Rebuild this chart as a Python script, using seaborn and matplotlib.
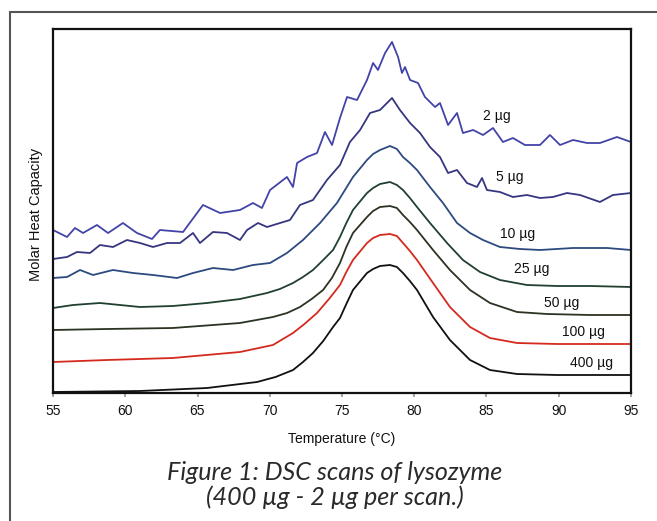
import matplotlib
matplotlib.use("Agg")
import matplotlib.pyplot as plt
from matplotlib.lines import Line2D
import seaborn as sns
import pandas as pd

# ---- data (temperature in °C, heat capacity in arbitrary units) ----
t_2 = [55.0, 55.97, 56.52, 57.08, 58.04, 58.81, 59.84, 60.81, 61.85, 62.40, 64.0, 65.38, 66.56,
       67.94, 68.84, 69.46, 70.02, 71.19, 71.61, 71.89, 72.58, 73.27, 73.82, 74.31, 74.86, 75.35,
       76.04, 76.73, 77.15, 77.49, 77.98, 78.46, 78.88, 79.15, 79.36, 79.71, 80.26, 80.74, 81.44,
       81.78, 82.34, 82.96, 83.37, 84.07, 84.76, 85.45, 86.14, 86.83, 87.66, 88.70, 89.39, 90.09,
       90.99, 91.96, 92.85, 94.03, 95.0]
cp_2 = [163, 156, 165, 160, 168, 160, 170, 160, 154, 163, 161, 188, 180,
        183, 190, 185, 203, 216, 206, 230, 236, 240, 261, 248, 275, 296,
        293, 313, 330, 323, 340, 351, 336, 320, 326, 313, 310, 296, 286,
        290, 268, 280, 260, 263, 258, 265, 251, 255, 248, 248, 258, 248,
        253, 250, 250, 256, 251]

t_5 = [55.0, 55.97, 56.66, 57.56, 58.25, 59.15, 60.12, 61.02, 61.92, 62.89, 63.79, 64.69, 65.17,
       66.07, 67.04, 67.94, 68.43, 69.19, 69.81, 70.71, 71.40, 72.09, 72.99, 73.96, 74.86, 75.55,
       76.25, 76.94, 77.63, 78.46, 79.01, 79.71, 80.40, 81.09, 81.78, 82.34, 82.96, 83.65, 84.34,
       84.69, 85.03, 85.93, 86.83, 87.80, 88.70, 89.60, 90.57, 91.47, 92.85, 93.75, 95.0]
cp_5 = [134, 136, 141, 140, 148, 146, 153, 150, 146, 150, 150, 160, 150,
        161, 160, 153, 163, 170, 166, 170, 173, 188, 193, 213, 228, 251,
        263, 280, 283, 295, 283, 270, 260, 246, 236, 220, 223, 210, 206,
        215, 203, 201, 196, 198, 195, 196, 200, 198, 191, 198, 200]

t_10 = [55.0, 55.97, 56.87, 57.77, 59.15, 60.54, 61.92, 63.58, 64.69, 66.07, 67.46, 68.84, 70.02,
        71.19, 72.30, 73.48, 74.65, 75.76, 76.73, 77.15, 77.63, 78.32, 78.8, 79.22, 79.7, 80.19,
        81.09, 81.99, 82.96, 83.86, 84.76, 85.93, 87.32, 88.70, 90.99, 93.34, 95.0]
cp_10 = [115, 116, 123, 118, 123, 120, 118, 115, 120, 125, 123, 128, 130,
         140, 153, 170, 190, 216, 233, 239, 243, 247, 244, 236, 230, 223,
         206, 190, 170, 160, 153, 146, 144, 143, 145, 145, 143]

t_25 = [55.0, 56.38, 58.25, 61.02, 63.30, 65.66, 67.94, 69.81, 70.7, 71.61, 72.3, 72.99, 73.7,
        74.38, 74.86, 75.3, 75.76, 76.73, 77.15, 77.63, 78.32, 78.8, 79.22, 79.7, 80.19, 81.09,
        82.27, 83.37, 84.55, 85.93, 87.80, 89.88, 92.16, 95.0]
cp_25 = [85, 88, 90, 86, 87, 90, 94, 100, 104, 110, 116, 123, 133,
         143, 156, 170, 183, 200, 205, 209, 211, 208, 203, 195, 186, 170,
         150, 133, 121, 113, 108, 107, 107, 106]

t_50 = [55.0, 58.74, 63.30, 67.94, 70.22, 71.2, 72.09, 72.9, 73.69, 74.3, 74.86, 75.3, 75.76,
        76.73, 77.15, 77.63, 78.32, 78.8, 79.22, 79.7, 80.19, 81.30, 82.47, 83.86, 85.24, 87.11,
        89.19, 92.16, 95.0]
cp_50 = [63, 64, 65, 70, 76, 80, 86, 94, 103, 115, 130, 146, 160,
         176, 182, 186, 187, 185, 178, 171, 163, 143, 123, 103, 90, 81,
         79, 78, 78]

t_100 = [55.0, 58.74, 63.30, 67.94, 70.22, 71.61, 72.4, 73.27, 74.1, 74.86, 75.3, 75.76, 76.73,
         77.15, 77.63, 78.32, 78.8, 79.22, 79.7, 80.19, 81.30, 82.47, 83.86, 85.24, 87.11, 89.88, 95.0]
cp_100 = [31, 33, 35, 41, 48, 60, 69, 80, 94, 108, 121, 133, 150,
          155, 158, 159, 157, 150, 142, 133, 110, 86, 66, 55, 50, 49, 49]

t_400 = [55.0, 61.02, 65.66, 69.12, 70.4, 71.61, 72.3, 72.99, 73.7, 74.38, 74.86, 75.3, 75.76,
         76.73, 77.15, 77.63, 78.32, 78.8, 79.22, 79.7, 80.19, 81.30, 82.47, 83.86, 85.24, 87.11,
         89.88, 95.0]
cp_400 = [1, 2, 5, 11, 16, 23, 31, 40, 52, 66, 75, 89, 103,
          120, 124, 127, 128, 126, 120, 112, 103, 76, 53, 33, 23, 19,
          18, 18]

series_labels = ["2 µg", "5 µg", "10 µg", "25 µg", "50 µg", "100 µg", "400 µg"]
x_ticks = [55, 60, 65, 70, 75, 80, 85, 90, 95]

# ---- styling / layout ----
colors = ["#4343a8", "#363680", "#2d4a80", "#214030", "#2b3322", "#d42a1e", "#111111"]
label_pos = [(85.73, 277), (86.63, 216), (87.18, 159), (88.15, 124),
             (90.22, 90), (91.68, 61), (92.30, 30)]

sns.set_theme(style="white")
plt.rcParams["font.family"] = ["Liberation Sans", "DejaVu Sans"]

rows = []
for lab, ts, cs in zip(series_labels,
                       [t_2, t_5, t_10, t_25, t_50, t_100, t_400],
                       [cp_2, cp_5, cp_10, cp_25, cp_50, cp_100, cp_400]):
    for t, c in zip(ts, cs):
        rows.append({"T": t, "Cp": c, "series": lab})
df = pd.DataFrame(rows)

fig = plt.figure(figsize=(6.57, 5.21), dpi=100)
fig.patch.set_facecolor("white")
W, H = 657, 521
ax = fig.add_axes([53 / W, (H - 393) / H, (631 - 53) / W, (393 - 29.5) / H])

sns.lineplot(data=df, x="T", y="Cp", hue="series", hue_order=series_labels,
             palette=dict(zip(series_labels, colors)), estimator=None, sort=False,
             legend=False, linewidth=1.3, ax=ax)

ax.set_xlim(55, 95)
ax.set_ylim(0, 363.5)
ax.set_xticks(x_ticks)
ax.set_xticklabels([str(v) for v in x_ticks])
ax.set_yticks([])
ax.tick_params(axis="x", bottom=True, direction="out", length=3, color="#999999",
               labelsize=10, pad=5, labelcolor="#111111")
for sp in ax.spines.values():
    sp.set_visible(True)
    sp.set_color("#111111")
    sp.set_linewidth(1.6)
ax.set_facecolor("white")

ax.set_xlabel("Temperature (°C)", fontsize=10, color="#111111")
ax.xaxis.set_label_coords(0.5, -0.108)
ax.set_ylabel("Molar Heat Capacity", fontsize=10.5, color="#111111")
ax.yaxis.set_label_coords(-0.018, 0.49)

for lab, (tx, ty) in zip(series_labels, label_pos):
    ax.text(tx, ty, lab, fontsize=10, ha="center", va="center", color="#111111")

# outer frame of the figure panel
fig.add_artist(Line2D([10 / W, 10 / W], [0, 1 - 12 / H], transform=fig.transFigure,
                      color="#555555", lw=1.5))
fig.add_artist(Line2D([10 / W, 1], [1 - 12 / H, 1 - 12 / H], transform=fig.transFigure,
                      color="#555555", lw=1.5))

# caption
cap_family = ["Lato", "DejaVu Sans"]
cap1 = fig.text(335 / W, 1 - 472 / H, "Figure 1: DSC scans of lysozyme", ha="center", va="center",
                fontsize=15, style="italic", family=cap_family, color="#2a2a2a")
cap2 = fig.text(335 / W, 1 - 497 / H, "(400 µg - 2 µg per scan.)", ha="center", va="center",
                fontsize=15, style="italic", family=cap_family, color="#2a2a2a")
r = fig.canvas.get_renderer()
w1 = cap1.get_window_extent(r).width
fs = min(15 * 336 / w1, 18.5)
cap1.set_fontsize(fs)
cap2.set_fontsize(fs)

fig.savefig("out.png", dpi=100)
